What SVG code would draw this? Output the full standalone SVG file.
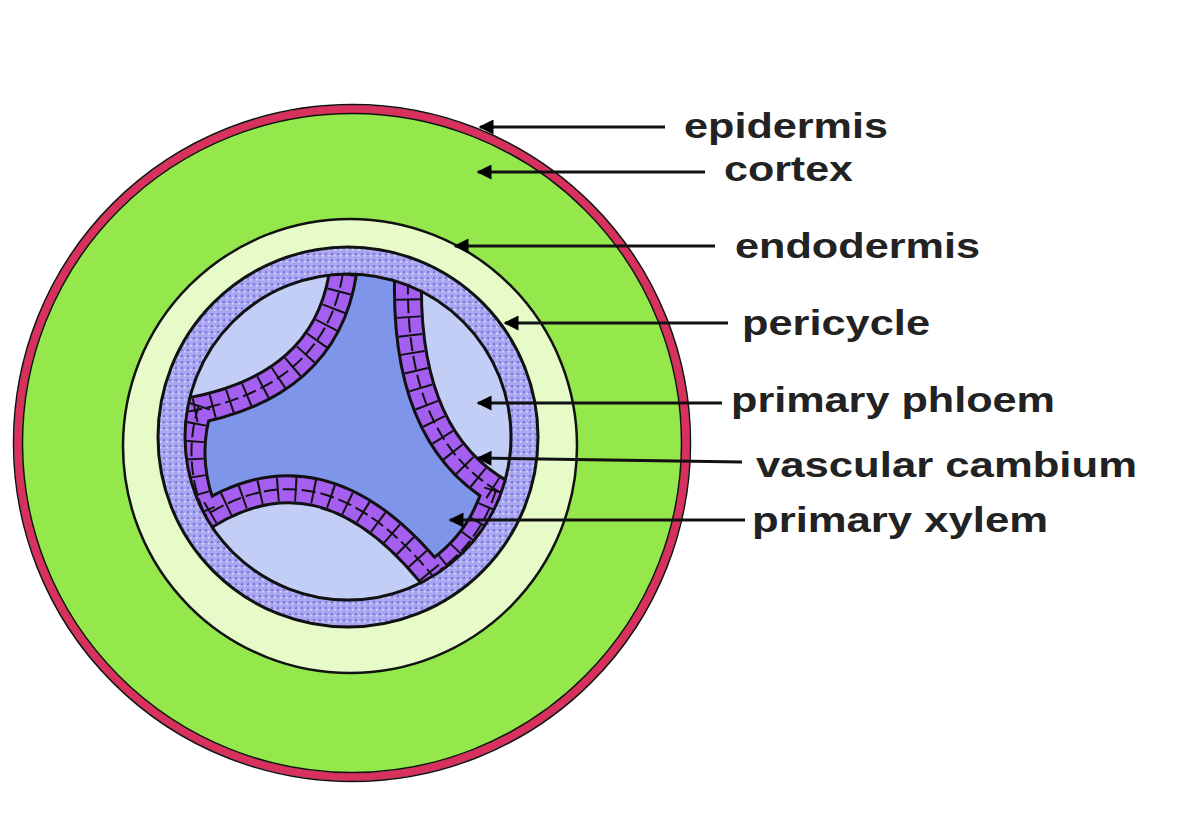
<svg xmlns="http://www.w3.org/2000/svg" width="1194" height="822" viewBox="0 0 1194 822">
<defs>
<pattern id="dots" width="6" height="6" patternUnits="userSpaceOnUse"><rect width="6" height="6" fill="#a9a6f2"/><rect x="1" y="1" width="2" height="2" fill="#7a72d8"/><rect x="4" y="3" width="1.5" height="1.5" fill="#e0e0ff"/></pattern>
<clipPath id="inner"><circle cx="348" cy="437" r="163"/></clipPath>
<marker id="ah" viewBox="0 0 10 10" refX="1" refY="5" markerWidth="6" markerHeight="5" orient="auto"><path d="M10,0 L0,5 L10,10 Z" fill="#000"/></marker>
</defs>
<style>
.lbl{font-family:"Liberation Sans",Arial,sans-serif;font-weight:bold;font-size:35px;fill:#222}
.ln{stroke:#111;stroke-width:3;fill:none;marker-start:url(#ah)}
.bo{fill:none;stroke:#111;stroke-width:30}
.bi{fill:none;stroke:#a45ef0;stroke-width:24}
.bd{fill:none;stroke:#111;stroke-width:2;stroke-dasharray:14 5}
.bx{fill:none;stroke:#111;stroke-width:24;stroke-dasharray:2 16}
</style>
<rect width="1194" height="822" fill="#fff"/>
<g id="cortex"><circle cx="352" cy="443" r="334" fill="#94e84c" stroke="#d8315e" stroke-width="8"/><circle cx="352" cy="443" r="338.5" fill="none" stroke="#111" stroke-width="1.5"/><circle cx="352" cy="443" r="329.5" fill="none" stroke="#111" stroke-width="1.5"/></g>
<g id="endodermis"><circle cx="350" cy="446" r="227" fill="#e6fbc8" stroke="#111" stroke-width="2.5"/></g>
<g id="pericycle"><circle cx="348" cy="437" r="190" fill="url(#dots)" stroke="#111" stroke-width="3"/></g>
<g id="stele" clip-path="url(#inner)">
<circle cx="348" cy="437" r="163" fill="#7f95ea"/>
<path d="M345 262 Q335 395 170 415 L100 300 L345 200 Z" fill="#c2cef6"/>
<path d="M408 290 Q405 450 510 500 L600 450 L520 250 Z" fill="#c2cef6"/>
<path d="M185 530 Q320 420 445 590 L400 700 L150 650 Z" fill="#c2cef6"/>
<g id="cambium">
<path d="M345 255 Q335 395 165 415" class="bo"/>
<path d="M408 280 Q405 450 515 500" class="bo"/>
<path d="M180 534 Q320 420 448 596" class="bo"/>
<path d="M199 405 A152 152 0 0 0 210 525" class="bo"/>
<path d="M496 490 A152 152 0 0 1 440 570" class="bo"/>
<path d="M345 255 Q335 395 165 415" class="bi"/>
<path d="M408 280 Q405 450 515 500" class="bi"/>
<path d="M180 534 Q320 420 448 596" class="bi"/>
<path d="M199 405 A152 152 0 0 0 210 525" class="bi"/>
<path d="M496 490 A152 152 0 0 1 440 570" class="bi"/>
<path d="M345 255 Q335 395 165 415" class="bd"/>
<path d="M408 280 Q405 450 515 500" class="bd"/>
<path d="M180 534 Q320 420 448 596" class="bd"/>
<path d="M199 405 A152 152 0 0 0 210 525" class="bd"/>
<path d="M496 490 A152 152 0 0 1 440 570" class="bd"/>
<path d="M345 255 Q335 395 165 415" class="bx"/>
<path d="M408 280 Q405 450 515 500" class="bx"/>
<path d="M180 534 Q320 420 448 596" class="bx"/>
<path d="M199 405 A152 152 0 0 0 210 525" class="bx"/>
<path d="M496 490 A152 152 0 0 1 440 570" class="bx"/>
</g>
</g>
<circle cx="348" cy="437" r="163" fill="none" stroke="#111" stroke-width="3"/>
<g id="connectors">
<path class="ln" d="M480 127 H665"/>
<path class="ln" d="M478 172 H705"/>
<path class="ln" d="M455 246 H715"/>
<path class="ln" d="M505 323 H728"/>
<path class="ln" d="M478 403 H722"/>
<path class="ln" d="M478 458 L742 462"/>
<path class="ln" d="M450 520 H745"/>
</g>
<g id="labels">
<text class="lbl" x="684" y="138" textLength="204" lengthAdjust="spacingAndGlyphs">epidermis</text>
<text class="lbl" x="724" y="181" textLength="129" lengthAdjust="spacingAndGlyphs">cortex</text>
<text class="lbl" x="735" y="258" textLength="245" lengthAdjust="spacingAndGlyphs">endodermis</text>
<text class="lbl" x="742" y="335" textLength="188" lengthAdjust="spacingAndGlyphs">pericycle</text>
<text class="lbl" x="731" y="412" textLength="324" lengthAdjust="spacingAndGlyphs">primary phloem</text>
<text class="lbl" x="756" y="477" textLength="381" lengthAdjust="spacingAndGlyphs">vascular cambium</text>
<text class="lbl" x="752" y="532" textLength="296" lengthAdjust="spacingAndGlyphs">primary xylem</text>
</g>
</svg>
